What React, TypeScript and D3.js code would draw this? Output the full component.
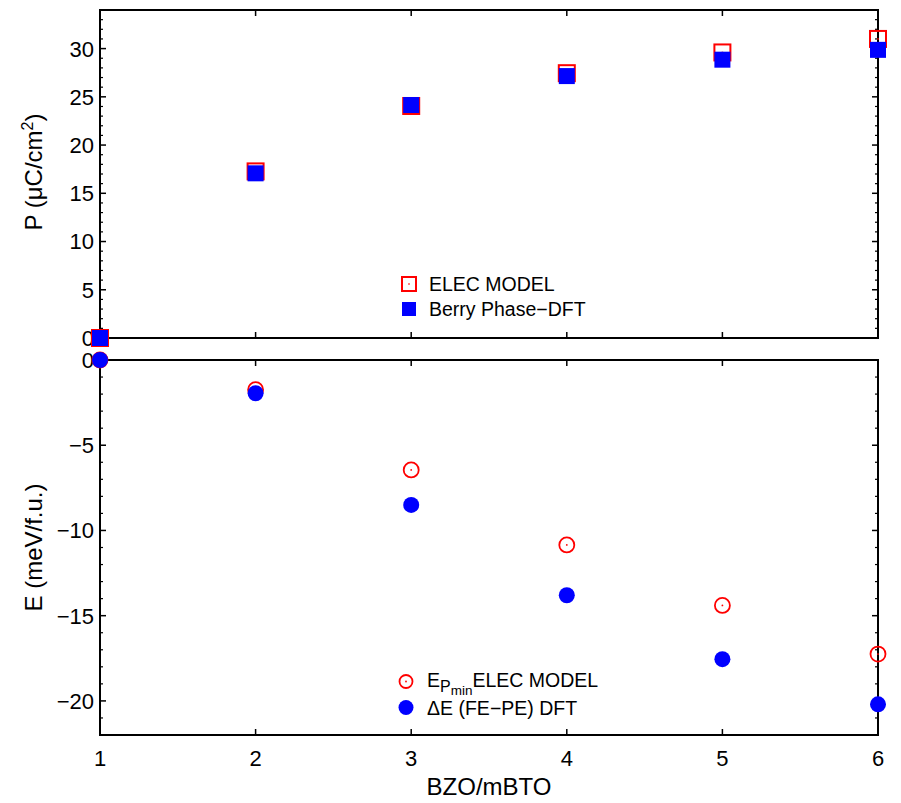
import React from "react";
import * as d3 from "d3";

const xValues = [1, 2, 3, 4, 5, 6];
const pElec = [0, 17.27, 24.05, 27.45, 29.6, 31.0];
const pBerry = [0, 17.07, 24.15, 27.15, 28.85, 29.87];
const eElec = [0, -1.74, -6.45, -10.85, -14.4, -17.25];
const eDft = [0, -1.95, -8.5, -13.8, -17.55, -20.2];
const xTicks = [1, 2, 3, 4, 5, 6];
const pTicks = [0, 5, 10, 15, 20, 25, 30];
const eTicks = [0, -5, -10, -15, -20];

const W = 901;
const H = 803;
const L = 100;
const R = 878;
const topP = { y0: 10, y1: 338 };
const botP = { y0: 360, y1: 735 };
const FONT = "'Liberation Sans', Arial, sans-serif";
const TICK_FS = 22;
const TITLE_FS = 24;

export default function App() {
  const x = d3.scaleLinear().domain([1, 6]).range([L, R]);
  const yP = d3.scaleLinear().domain([0, 34]).range([topP.y1, topP.y0]);
  const yE = d3.scaleLinear().domain([-22, 0]).range([botP.y1, botP.y0]);

  const panelFrame = (y0: number, y1: number, yScale: d3.ScaleLinear<number, number>, majors: number[], minors: number[]) => (
    <g>
      <rect x={L} y={y0} width={R - L} height={y1 - y0} fill="none" stroke="#000" strokeWidth={2} />
      {xTicks.map((t) => (
        <g key={"xt" + t}>
          <line x1={x(t)} x2={x(t)} y1={y1} y2={y1 - 6} stroke="#000" strokeWidth={1.5} />
          <line x1={x(t)} x2={x(t)} y1={y0} y2={y0 + 6} stroke="#000" strokeWidth={1.5} />
        </g>
      ))}
      {minors.map((t) => (
        <g key={"mn" + t}>
          <line x1={L} x2={L + 3} y1={yScale(t)} y2={yScale(t)} stroke="#000" strokeWidth={1.2} />
          <line x1={R} x2={R - 3} y1={yScale(t)} y2={yScale(t)} stroke="#000" strokeWidth={1.2} />
        </g>
      ))}
      {majors.map((t) => (
        <g key={"mj" + t}>
          <line x1={L} x2={L + 6} y1={yScale(t)} y2={yScale(t)} stroke="#000" strokeWidth={1.5} />
          <line x1={R} x2={R - 6} y1={yScale(t)} y2={yScale(t)} stroke="#000" strokeWidth={1.5} />
          <text x={L - 6} y={yScale(t)} dy="0.36em" textAnchor="end" fontSize={TICK_FS} fontFamily={FONT}>
            {t < 0 ? "\u2212" + Math.abs(t) : t}
          </text>
        </g>
      ))}
    </g>
  );

  const pMinors = d3.range(0, 35, 1).filter((v) => v % 5 !== 0);
  const eMinors = d3.range(-22, 1, 1).filter((v) => v % 5 !== 0);

  const sq = 16;
  const rc = 7.5;

  return (
    <svg width={W} height={H} style={{ display: "block", position: "absolute", left: 0, top: 0 }}>
      <rect width={W} height={H} fill="#fff" />
      {panelFrame(topP.y0, topP.y1, yP, pTicks, pMinors)}
      {panelFrame(botP.y0, botP.y1, yE, eTicks, eMinors)}

      {/* top panel data */}
      {xValues.map((v, i) => (
        <g key={"pe" + i}>
          <rect x={x(v) - sq / 2} y={yP(pElec[i]) - sq / 2} width={sq} height={sq} fill="none" stroke="#ff0000" strokeWidth={2} />
          <rect x={x(v) - 0.75} y={yP(pElec[i]) - 0.75} width={1.5} height={1.5} fill="#ff0000" />
        </g>
      ))}
      {xValues.map((v, i) => (
        <rect key={"pb" + i} x={x(v) - sq / 2} y={yP(pBerry[i]) - sq / 2} width={sq} height={sq} fill="#0000ff" />
      ))}

      {/* bottom panel data */}
      {xValues.map((v, i) => (
        <g key={"ee" + i}>
          <circle cx={x(v)} cy={yE(eElec[i])} r={rc} fill="none" stroke="#ff0000" strokeWidth={1.8} />
          <circle cx={x(v)} cy={yE(eElec[i])} r={0.9} fill="#ff0000" />
        </g>
      ))}
      {xValues.map((v, i) => (
        <circle key={"ed" + i} cx={x(v)} cy={yE(eDft[i])} r={8} fill="#0000ff" />
      ))}

      {/* legends */}
      <g fontFamily={FONT} fontSize={19.5}>
        <rect x={402} y={277} width={14} height={14} fill="none" stroke="#ff0000" strokeWidth={2} />
        <rect x={408.3} y={283.3} width={1.4} height={1.4} fill="#ff0000" />
        <text x={429} y={291}>ELEC MODEL</text>
        <rect x={402} y={302} width={14} height={14} fill="#0000ff" />
        <text x={429} y={316}>Berry Phase{"\u2212"}DFT</text>

        <circle cx={406} cy={681.5} r={6.5} fill="none" stroke="#ff0000" strokeWidth={1.8} />
        <circle cx={406} cy={681.5} r={0.9} fill="#ff0000" />
        <text x={427} y={687}>
          E<tspan fontSize={16} dy="5">P</tspan>
          <tspan fontSize={13.5} dy="3">min</tspan>
          <tspan dy="-8">ELEC MODEL</tspan>
        </text>
        <circle cx={406} cy={707.5} r={7.5} fill="#0000ff" />
        <text x={427} y={715}>{"\u0394"}E (FE{"\u2212"}PE) DFT</text>
      </g>

      {/* x tick labels */}
      {xTicks.map((t) => (
        <text key={"xl" + t} x={x(t)} y={766} textAnchor="middle" fontSize={TICK_FS} fontFamily={FONT}>
          {t}
        </text>
      ))}
      <text x={489} y={795} textAnchor="middle" fontSize={TITLE_FS} fontFamily={FONT}>BZO/mBTO</text>

      <text transform={`translate(42,${(topP.y0 + topP.y1) / 2 - 2}) rotate(-90)`} textAnchor="middle" fontSize={TITLE_FS} fontFamily={FONT}>
        P ({"\u03BC"}C/cm<tspan fontSize={16} dy="-9">2</tspan><tspan dy="9">)</tspan>
      </text>
      <text transform={`translate(42,${(botP.y0 + botP.y1) / 2}) rotate(-90)`} textAnchor="middle" fontSize={TITLE_FS} fontFamily={FONT}>
        E (meV/f.u.)
      </text>
    </svg>
  );
}
